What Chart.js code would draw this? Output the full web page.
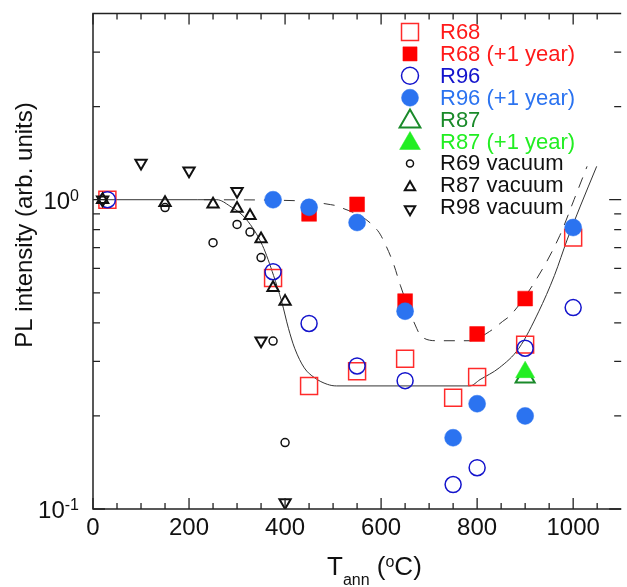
<!DOCTYPE html>
<html>
<head>
<meta charset="utf-8">
<script src="https://cdn.jsdelivr.net/npm/chart.js@4.4.0/dist/chart.umd.min.js"></script>
<style>
  html, body { margin: 0; padding: 0; background: #fff; overflow: hidden; }
  canvas { display: block; }
</style>
</head>
<body>
<canvas id="pl-chart" width="627" height="587"></canvas>
<script>
// annealing temperature (degC) and PL intensity
const r68X = [30, 375, 450, 550, 650, 750, 800, 900, 1000];
const r68Y = [1.0, 0.558, 0.25, 0.279, 0.306, 0.229, 0.267, 0.34, 0.754];

const r68YearX = [450, 550, 650, 800, 900];
const r68YearY = [0.9, 0.966, 0.47, 0.368, 0.479];

const r96X = [30, 375, 450, 550, 650, 750, 800, 900, 1000];
const r96Y = [1.0, 0.585, 0.398, 0.29, 0.26, 0.12, 0.136, 0.331, 0.448];

const r96YearX = [375, 450, 550, 650, 750, 800, 900, 1000];
const r96YearY = [1.0, 0.945, 0.844, 0.436, 0.170, 0.219, 0.20, 0.813];

const r87X = [900];
const r87Y = [0.267];
const r87YearX = [900];
const r87YearY = [0.277];

const r69VacX = [150, 250, 300, 327, 350, 375, 400];
const r69VacY = [0.943, 0.726, 0.832, 0.786, 0.65, 0.349, 0.164];

const r87VacX = [20, 150, 250, 300, 327, 350, 375, 400];
const r87VacY = [1.0, 0.978, 0.966, 0.937, 0.887, 0.746, 0.519, 0.469];

const r98VacX = [20, 100, 200, 300, 350, 400];
const r98VacY = [1.0, 1.314, 1.24, 1.066, 0.35, 0.105];

// guide curves
const solidX = [20, 217, 258, 285, 319, 353, 376, 393, 407, 420, 440, 461, 488, 507, 785, 806, 846, 887, 928, 961, 988, 1015, 1049];
const solidY = [1.0, 1.0, 1.0, 0.954, 0.865, 0.711, 0.569, 0.468, 0.384, 0.331, 0.286, 0.266, 0.253, 0.25, 0.25, 0.262, 0.286, 0.331, 0.434, 0.569, 0.746, 0.954, 1.282];

const dashX = [231, 420, 495, 508, 593, 610, 627, 640, 674, 684, 718, 785, 826, 853, 870, 924, 972, 1002, 1029];
const dashY = [1.0, 0.993, 0.964, 0.954, 0.794, 0.711, 0.613, 0.529, 0.384, 0.361, 0.35, 0.35, 0.375, 0.404, 0.424, 0.555, 0.765, 1.002, 1.282];

// axis ticks (the original frame ends at 1100, just past the cropped right edge)
const xFrameMax = 1100;
const xMajorTicks = [0, 200, 400, 600, 800, 1000];
const xTickLabels = ['0', '200', '400', '600', '800', '1000'];
const xMinorTicks = [50, 100, 150, 250, 300, 350, 450, 500, 550, 650, 700, 750, 850, 900, 950, 1050];
const yMajorTicks = [0.1, 1];
const yTickBase = ['10', '10'];
const yTickExp = ['-1', '0'];
const yMinorTicks = [0.2, 0.3, 0.4, 0.5, 0.6, 0.7, 0.8, 0.9, 2, 3];

const FONT = '"Liberation Sans", Arial, sans-serif';

function pts(xs, ys) {
    return xs.map((v, i) => ({ x: v, y: ys[i] }));
}

const markerSets = [
    { label: 'R68', xs: r68X, ys: r68Y, style: 'rect', r: 12, fill: null, stroke: '#ff2a2a', lw: 1.5, text: '#ff1a1a', lr: 12 },
    { label: 'R68 (+1 year)', xs: r68YearX, ys: r68YearY, style: 'rect', r: 10.5, fill: '#ff0000', stroke: '#ff0000', lw: 0.5, text: '#ff1a1a', lr: 10 },
    { label: 'R96', xs: r96X, ys: r96Y, style: 'circle', r: 8, fill: null, stroke: '#1414cc', lw: 1.5, text: '#1414cc', lr: 8.5 },
    { label: 'R96 (+1 year)', xs: r96YearX, ys: r96YearY, style: 'circle', r: 8.5, fill: '#2b73f0', stroke: '#2b73f0', lw: 0.5, text: '#2b73f0', lr: 8.5 },
    { label: 'R87', xs: r87X, ys: r87Y, style: 'triangle', r: 11, fill: null, stroke: '#1a8a2a', lw: 2, text: '#1a8a2a', lr: 12 },
    { label: 'R87 (+1 year)', xs: r87YearX, ys: r87YearY, style: 'triangle', r: 11, fill: '#22ee22', stroke: '#22ee22', lw: 0.5, text: '#22ee22', lr: 12 },
    { label: 'R69 vacuum', xs: r69VacX, ys: r69VacY, style: 'circle', r: 4, fill: null, stroke: '#111', lw: 1.5, text: '#111', lr: 3.5 },
    { label: 'R87 vacuum', xs: r87VacX, ys: r87VacY, style: 'triangle', r: 6.5, fill: null, stroke: '#111', lw: 2, text: '#111', lr: 6 },
    { label: 'R98 vacuum', xs: r98VacX, ys: r98VacY, style: 'triangle', r: 6.5, rot: 180, fill: null, stroke: '#111', lw: 2, text: '#111', lr: 6 }
];

const datasets = [];
const total = markerSets.length + 2;
markerSets.forEach((s, i) => {
    datasets.push({
        label: s.label,
        data: pts(s.xs, s.ys),
        pointStyle: s.style,
        pointRadius: s.r,
        pointRotation: s.rot || 0,
        pointBackgroundColor: s.fill || 'rgba(0,0,0,0)',
        pointBorderColor: s.stroke,
        pointBorderWidth: s.lw,
        order: total - i
    });
});
datasets.push({
    label: 'fit', data: pts(solidX, solidY), showLine: true, pointRadius: 0,
    borderColor: '#333', borderWidth: 1, cubicInterpolationMode: 'monotone', order: total + 1
});
datasets.push({
    label: 'fit +1 year', data: pts(dashX, dashY), showLine: true, pointRadius: 0,
    borderColor: '#333', borderWidth: 1, borderDash: [11, 9], cubicInterpolationMode: 'monotone', order: total + 2
});

function drawMarker(ctx, s, r, x, y) {
    ctx.beginPath();
    if (s.style === 'rect') {
        const h = r * Math.SQRT1_2;
        ctx.rect(x - h, y - h, 2 * h, 2 * h);
    } else if (s.style === 'circle') {
        ctx.arc(x, y, r, 0, Math.PI * 2);
    } else {
        let a = (s.rot || 0) * Math.PI / 180;
        for (let k = 0; k < 3; k++) {
            const px = x + Math.sin(a) * r, py = y - Math.cos(a) * r;
            if (k === 0) ctx.moveTo(px, py); else ctx.lineTo(px, py);
            a += Math.PI * 2 / 3;
        }
        ctx.closePath();
    }
    if (s.fill) { ctx.fillStyle = s.fill; ctx.fill(); }
    ctx.strokeStyle = s.stroke;
    ctx.lineWidth = s.lw;
    ctx.stroke();
}

const decorations = {
    id: 'decorations',
    afterDraw(chart) {
        const { ctx, chartArea: a, scales: { x, y } } = chart;
        const right = x.getPixelForValue(xFrameMax);
        ctx.save();

        // frame (right side falls outside the picture)
        ctx.strokeStyle = '#222';
        ctx.lineWidth = 1.5;
        ctx.beginPath();
        ctx.moveTo(right, a.top);
        ctx.lineTo(a.left, a.top);
        ctx.lineTo(a.left, a.bottom);
        ctx.lineTo(right, a.bottom);
        ctx.stroke();

        // inward ticks
        ctx.lineWidth = 1.3;
        ctx.beginPath();
        const xTick = (v, len) => {
            const px = x.getPixelForValue(v);
            ctx.moveTo(px, a.bottom); ctx.lineTo(px, a.bottom - len);
            ctx.moveTo(px, a.top); ctx.lineTo(px, a.top + len);
        };
        const yTick = (v, len) => {
            const py = y.getPixelForValue(v);
            ctx.moveTo(a.left, py); ctx.lineTo(a.left + len, py);
            ctx.moveTo(right, py); ctx.lineTo(right - len, py);
        };
        xMajorTicks.forEach(v => xTick(v, 11));
        xMinorTicks.forEach(v => xTick(v, 6));
        yMajorTicks.forEach(v => yTick(v, 12));
        yMinorTicks.forEach(v => yTick(v, 7));
        ctx.stroke();

        // tick labels
        ctx.fillStyle = '#111';
        ctx.font = '24px ' + FONT;
        ctx.textAlign = 'center';
        ctx.textBaseline = 'alphabetic';
        xMajorTicks.forEach((v, i) => {
            ctx.fillText(xTickLabels[i], x.getPixelForValue(v), a.bottom + 26);
        });
        yMajorTicks.forEach((v, i) => {
            const py = y.getPixelForValue(v);
            ctx.textAlign = 'right';
            ctx.font = '16px ' + FONT;
            const w = ctx.measureText(yTickExp[i]).width;
            ctx.fillText(yTickExp[i], 79, py + 1);
            ctx.font = '24px ' + FONT;
            ctx.fillText(yTickBase[i], 79 - w, py + 9);
        });

        // y title
        ctx.save();
        ctx.translate(32, 225);
        ctx.rotate(-Math.PI / 2);
        ctx.textAlign = 'center';
        ctx.font = '24px ' + FONT;
        ctx.fillText('PL intensity (arb. units)', 0, 0);
        ctx.restore();

        // x title: T_ann (°C)
        ctx.textAlign = 'left';
        let cx = 327;
        const part = (t, size, base) => {
            ctx.font = size + 'px ' + FONT;
            ctx.fillText(t, cx, base);
            cx += ctx.measureText(t).width;
        };
        part('T', 26, 575);
        part('ann', 16, 585);
        part(' (', 26, 575);
        part('o', 16, 567);
        part('C)', 26, 575);

        // legend
        ctx.textBaseline = 'middle';
        ctx.font = '22px ' + FONT;
        markerSets.forEach((s, i) => {
            const ly = 32 + i * 21.9;
            drawMarker(ctx, s, s.lr, 410, s.style === 'triangle' ? ly + 2 : ly);
            ctx.fillStyle = s.text;
            ctx.fillText(s.label, 440, ly + 1);
        });

        ctx.restore();
    }
};

new Chart(document.getElementById('pl-chart'), {
    type: 'scatter',
    data: { datasets: datasets },
    options: {
        responsive: false,
        animation: false,
        layout: { padding: { left: 93, top: 10, right: 0, bottom: 78 } },
        plugins: { legend: { display: false }, tooltip: { enabled: false } },
        scales: {
            // right edge of the picture sits at about 1084 degC
            x: { type: 'linear', min: 0, max: 1084, display: false },
            y: { type: 'logarithmic', min: 0.1, max: 4, display: false }
        }
    },
    plugins: [decorations]
});
</script>
</body>
</html>
